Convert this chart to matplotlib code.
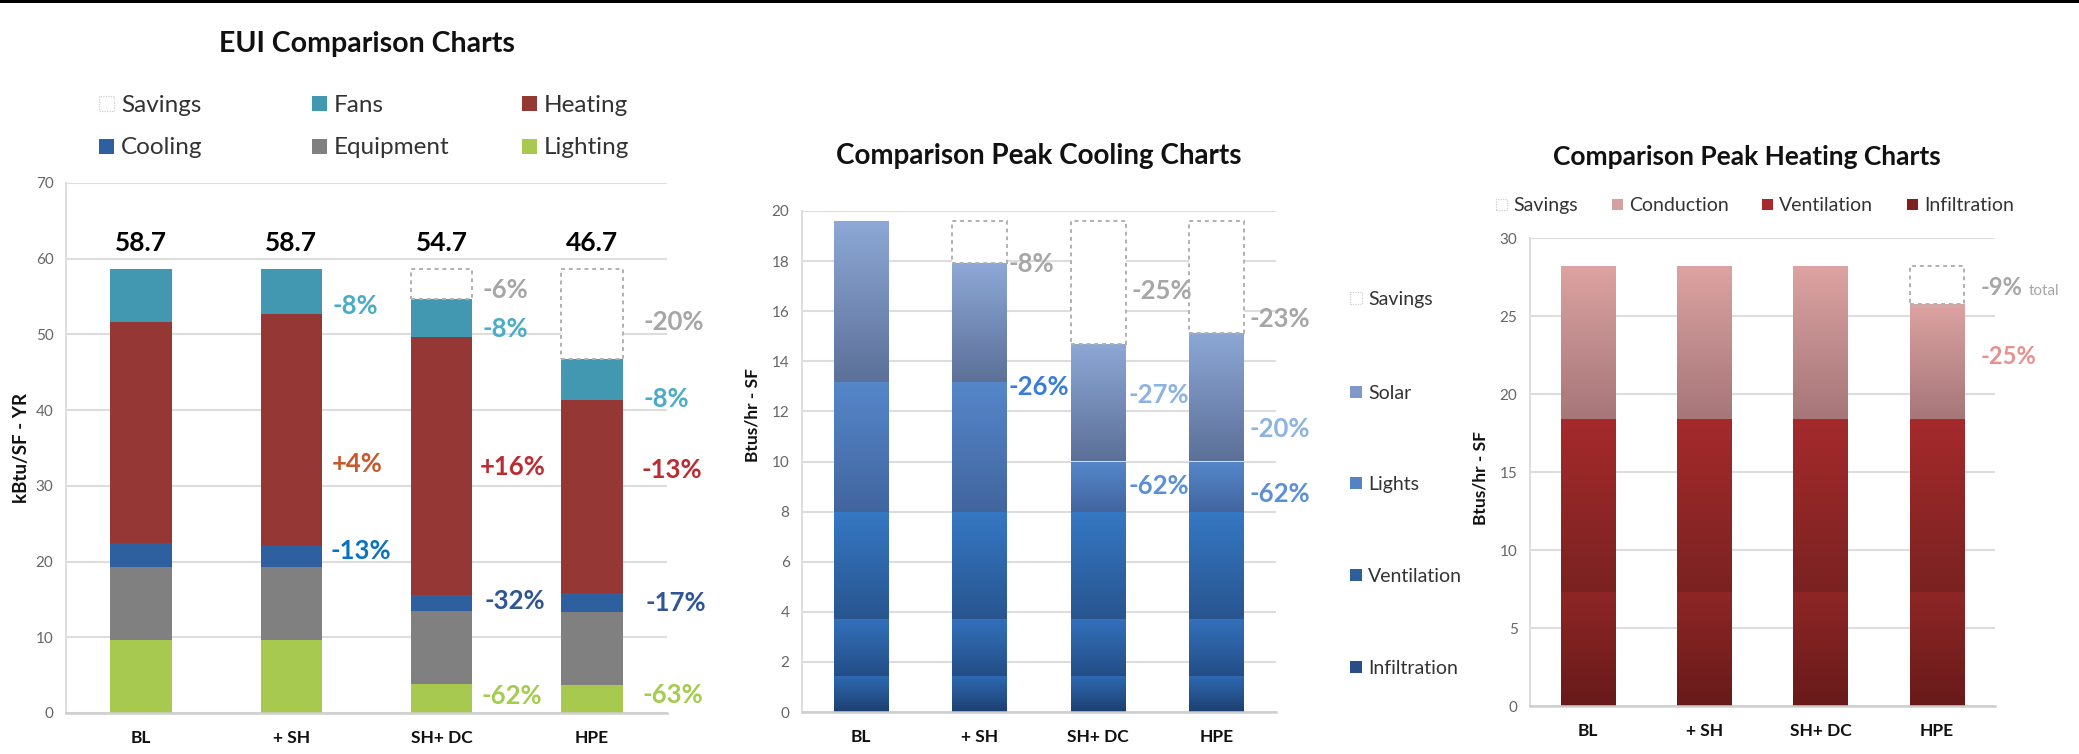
import numpy as np
import matplotlib
matplotlib.use("Agg")
import matplotlib.pyplot as plt
from matplotlib.patches import Rectangle
from matplotlib.colors import to_rgb

plt.rcParams['font.family'] = ['Lato', 'DejaVu Sans']

# ---------------- data ----------------
categories = ['BL', '+ SH', 'SH+ DC', 'HPE']

# EUI (kBtu/SF-YR)
eui_lighting = [9.7, 9.7, 3.8, 3.75]
eui_equipment = [9.55, 9.55, 9.7, 9.55]
eui_cooling = [3.15, 2.8, 2.05, 2.6]
eui_heating = [29.3, 30.7, 34.05, 25.5]
eui_fans = [7.0, 5.95, 5.1, 5.3]

# Peak cooling (Btus/hr-SF)
pc_infiltration = [1.42, 1.42, 1.42, 1.42]
pc_ventilation = [2.28, 2.28, 2.28, 2.28]
pc_conduction = [4.3, 4.3, 4.3, 4.3]
pc_lights = [5.19, 5.19, 2.0, 2.0]
pc_solar = [6.41, 4.74, 4.69, 5.12]

# Peak heating (Btus/hr-SF)
ph_infiltration = [7.33, 7.33, 7.33, 7.33]
ph_ventilation = [11.07, 11.07, 11.07, 11.07]
ph_conduction = [9.8, 9.8, 9.8, 7.37]

# change labels: (category index, y, text, colour key, pixel offset)
eui_notes = [
    (1, 53.8, '-8%', 'fans', 10), (1, 32.9, '+4%', 'heat1', 10), (1, 21.4, '-13%', 'cool1', 8),
    (2, 55.9, '-6%', 'sav', 10), (2, 50.7, '-8%', 'fans', 10), (2, 32.5, '+16%', 'heat', 7),
    (2, 14.8, '-32%', 'cool', 12), (2, 2.2, '-62%', 'light', 9),
    (3, 51.7, '-20%', 'sav', 21), (3, 41.5, '-8%', 'fans', 21), (3, 32.1, '-13%', 'heat', 19),
    (3, 14.5, '-17%', 'cool', 23), (3, 2.4, '-63%', 'light', 20),
]
pc_notes = [
    (1, 17.9, '-8%', 'sav', 1), (1, 12.98, '-26%', 'blue', 1),
    (2, 16.8, '-25%', 'sav', 6), (2, 12.64, '-27%', 'lblue', 3), (2, 9.04, '-62%', 'mblue', 3),
    (3, 15.67, '-23%', 'sav', 5), (3, 11.3, '-20%', 'lblue', 5), (3, 8.69, '-62%', 'mblue', 5),
]
ph_notes = [
    (3, 26.8, '-9%', 'sav', 16), (3, 22.4, '-25%', 'pink', 16),
]

note_colors = {
    'fans': '#4bacc6', 'heat1': '#c65a2e', 'heat': '#bf2a30', 'cool1': '#0a72c2',
    'cool': '#2f5597', 'light': '#a4cc4f', 'sav': '#a6a6a6',
    'blue': '#3a7dd8', 'lblue': '#8db3e2', 'mblue': '#5b90d9', 'pink': '#e6918f',
}

# ---------------- figure ----------------
W, H = 2079, 754
fig = plt.figure(figsize=(W / 100, H / 100), dpi=100)
fig.patch.set_facecolor('white')

TICK_C = '#666666'
GRID_C = '#dddddd'
SAV_EDGE = '#b0b0b0'


def px_axes(left, right, ybot, ytop, vmax, step):
    ax = fig.add_axes([left / W, 1 - ybot / H, (right - left) / W, (ybot - ytop) / H])
    ax.set_xlim(-0.5, len(categories) - 0.5)
    ax.set_ylim(0, vmax)
    ax.set_yticks(np.arange(0, vmax + 0.01, step))
    ax.set_axisbelow(True)
    ax.grid(axis='y', color=GRID_C, lw=1.5)
    for s in ('top', 'right'):
        ax.spines[s].set_visible(False)
    ax.spines['left'].set_color(GRID_C)
    ax.spines['left'].set_linewidth(1.4)
    ax.spines['bottom'].set_color('#cfcfcf')
    ax.spines['bottom'].set_linewidth(1.8)
    ax.tick_params(axis='both', length=0)
    ax.tick_params(axis='y', labelsize=11, labelcolor=TICK_C, pad=9)
    ax.set_xticks(range(len(categories)))
    ax.set_xticklabels(categories, fontsize=12.5, fontweight='bold', color='#111111')
    ax.tick_params(axis='x', pad=12)
    return ax


def gradient_bars(ax, x, heights, bottoms, width, top_c, bot_c):
    bars = ax.bar(x, heights, width, bottom=bottoms, color='none', edgecolor='none', zorder=2)
    t = np.array(to_rgb(top_c))
    b = np.array(to_rgb(bot_c))
    f = np.linspace(0, 1, 256)[:, None]
    img = (b * (1 - f) + t * f)[:, None, :]
    for p in bars:
        x0, y0 = p.get_x(), p.get_y()
        im = ax.imshow(img, extent=[x0, x0 + p.get_width(), y0, y0 + p.get_height()],
                       origin='lower', aspect='auto', interpolation='bilinear', zorder=2)
        im.set_clip_path(p)
    return bars


def savings_boxes(ax, x, totals, base, width):
    for xi, tot in zip(x, totals):
        if base - tot > 1e-6:
            ax.add_patch(Rectangle((xi - width / 2, tot), width, base - tot, facecolor='white',
                                   edgecolor=SAV_EDGE, lw=1.4, linestyle=(0, (2, 2)), zorder=3))


def notes(ax, items, width, size=18.5):
    for i, y, txt, ck, dx in items:
        ax.annotate(txt, xy=(i + width / 2, y), xytext=(dx, 0), textcoords='offset pixels',
                    ha='left', va='center', fontsize=size, fontweight='bold',
                    color=note_colors[ck], zorder=5, annotation_clip=False)


def legend_item(x, y, label, color, size, fs, dotted=False, gap=6):
    kw = dict(facecolor=color, edgecolor='none')
    if dotted:
        kw = dict(facecolor='white', edgecolor='#d0d0d0', lw=0.9, linestyle=(0, (1, 1)))
    fig.add_artist(Rectangle((x / W, 1 - (y + size / 2) / H), size / W, size / H,
                             transform=fig.transFigure, **kw))
    fig.text((x + size + gap) / W, 1 - y / H, label, fontsize=fs, color='#333333',
             ha='left', va='center_baseline')


x = np.arange(len(categories))

# ---------------- EUI chart ----------------
ax1 = px_axes(66, 667, 713, 183, 70, 10)
w1 = 0.41
stack1 = [(eui_lighting, '#a7c950'), (eui_equipment, '#808080'), (eui_cooling, '#2e5f9e'),
          (eui_heating, '#953735'), (eui_fans, '#4298b0')]
bottom = np.zeros(len(categories))
for vals, col in stack1:
    ax1.bar(x, vals, w1, bottom=bottom, color=col, edgecolor='none', zorder=2)
    bottom = bottom + np.array(vals)
eui_totals = bottom
savings_boxes(ax1, x, eui_totals, eui_totals[0], w1)
for xi, tot in zip(x, eui_totals):
    ax1.text(xi, 62.1, f'{tot:.1f}', ha='center', va='center', fontsize=19,
             fontweight='bold', color='black', zorder=5)
notes(ax1, eui_notes, w1)
ax1.set_ylabel('kBtu/SF - YR', fontsize=13.5, fontweight='bold', color='#111111', labelpad=4)
fig.text(367 / W, 1 - 44 / H, 'EUI Comparison Charts', ha='center', va='center',
         fontsize=20.5, fontweight='bold', color='#111111')

eui_legend = [('Savings', None, 99, 103), ('Fans', '#4298b0', 312, 103), ('Heating', '#953735', 522, 103),
              ('Cooling', '#2e5f9e', 99, 146), ('Equipment', '#808080', 312, 146),
              ('Lighting', '#a7c950', 522, 146)]
for lab, col, lx, ly in eui_legend:
    legend_item(lx, ly, lab, col, 15, 17.5, dotted=col is None, gap=7)

# ---------------- Peak cooling chart ----------------
ax2 = px_axes(802, 1276, 712, 211, 20, 2)
w2 = 0.46
stack2 = [(pc_infiltration, '#2e69b1', '#1d3f70'), (pc_ventilation, '#3371bc', '#244d86'),
          (pc_conduction, '#3678c4', '#28558f'), (pc_lights, '#5587ca', '#42659f'),
          (pc_solar, '#8da8d6', '#5c7098')]
bottom = np.zeros(len(categories))
for vals, tc, bc in stack2:
    gradient_bars(ax2, x, vals, bottom, w2, tc, bc)
    bottom = bottom + np.array(vals)
pc_totals = bottom
savings_boxes(ax2, x, pc_totals, pc_totals[0], w2)
notes(ax2, pc_notes, w2)
ax2.set_xlim(-0.5, 3.5)
ax2.set_ylim(0, 20)
fig.text(752 / W, 1 - 415 / H, 'Btus/hr - SF', rotation=90, ha='center', va='center',
         fontsize=12.5, fontweight='bold', color='#111111')
fig.text(1039 / W, 1 - 156 / H, 'Comparison Peak Cooling Charts', ha='center', va='center',
         fontsize=20, fontweight='bold', color='#111111')

pc_legend = [('Savings', None, 298), ('Solar', '#7f98c8', 392), ('Lights', '#5582c2', 483),
             ('Ventilation', '#2f5e9e', 575), ('Infiltration', '#274e86', 667)]
for lab, col, ly in pc_legend:
    legend_item(1350, ly, lab, col, 12, 14, dotted=col is None, gap=6)

# ---------------- Peak heating chart ----------------
ax3 = px_axes(1530, 1995, 706, 238, 30, 5)
w3 = 0.47
stack3 = [(ph_infiltration, '#8f2626', '#681a1a'), (ph_ventilation, '#a52a2c', '#7a2221'),
          (ph_conduction, '#dca3a2', '#a67678')]
bottom = np.zeros(len(categories))
for vals, tc, bc in stack3:
    gradient_bars(ax3, x, vals, bottom, w3, tc, bc)
    bottom = bottom + np.array(vals)
ph_totals = bottom
savings_boxes(ax3, x, ph_totals, ph_totals[0], w3)
notes(ax3, ph_notes, w3, size=17)
ax3.annotate('total', xy=(3 + w3 / 2, 26.8), xytext=(65, -3), textcoords='offset pixels',
             ha='left', va='center', fontsize=11, color='#a6a6a6', annotation_clip=False)
ax3.set_xlim(-0.5, 3.5)
ax3.set_ylim(0, 30)
fig.text(1481 / W, 1 - 478 / H, 'Btus/hr - SF', rotation=90, ha='center', va='center',
         fontsize=12.5, fontweight='bold', color='#111111')
fig.text(1747 / W, 1 - 157 / H, 'Comparison Peak Heating Charts', ha='center', va='center',
         fontsize=19, fontweight='bold', color='#111111')

ph_legend = [('Savings', None, 1496), ('Conduction', '#d4a0a0', 1612),
             ('Ventilation', '#a8292b', 1762), ('Infiltration', '#7f2020', 1907)]
for lab, col, lx in ph_legend:
    legend_item(lx, 204, lab, col, 11, 14, dotted=col is None, gap=6)

# thin rule along the top edge
fig.add_artist(Rectangle((0, 1 - 2.5 / H), 1, 2.5 / H, transform=fig.transFigure,
                         facecolor='black', edgecolor='none'))

fig.savefig('out.png', dpi=100, facecolor='white')
